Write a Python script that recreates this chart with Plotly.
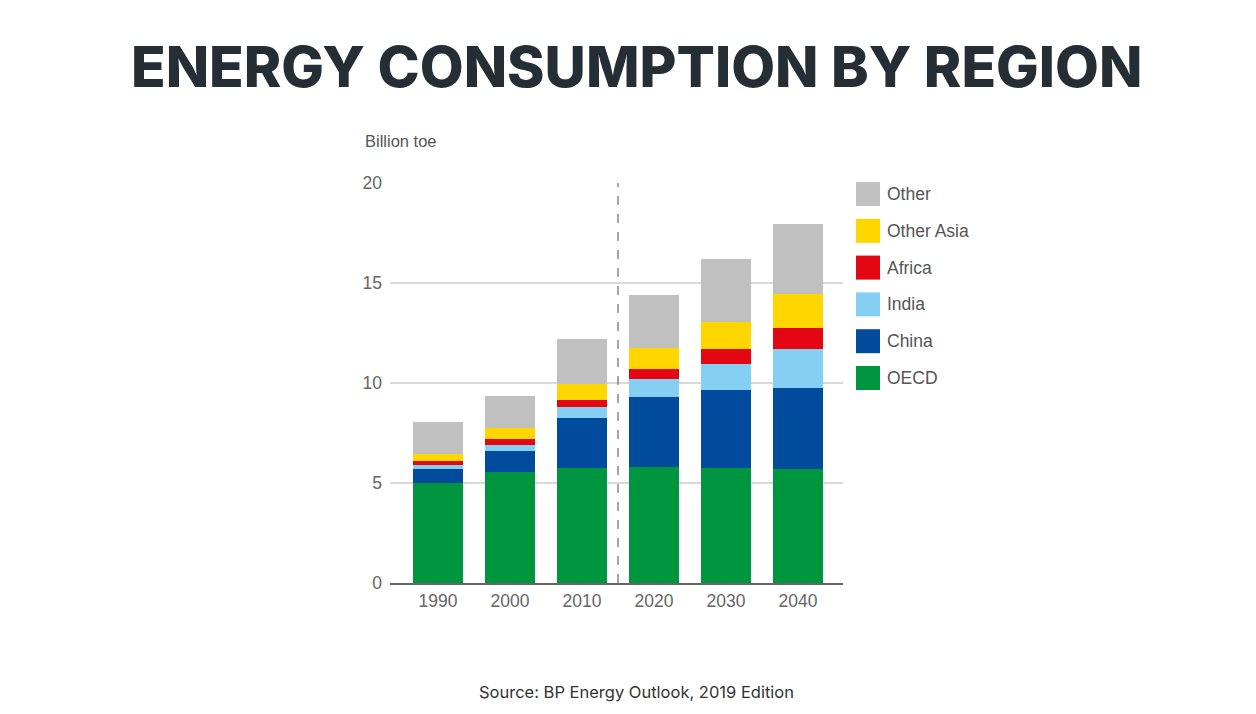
import plotly.graph_objects as go

years = ["1990", "2000", "2010", "2020", "2030", "2040"]
oecd = [5.0, 5.55, 5.73, 5.82, 5.77, 5.68]
china = [0.7, 1.07, 2.52, 3.5, 3.86, 4.09]
india = [0.2, 0.28, 0.55, 0.86, 1.32, 1.95]
africa = [0.22, 0.28, 0.37, 0.5, 0.75, 1.05]
other_asia = [0.33, 0.59, 0.8, 1.07, 1.37, 1.68]
other = [1.62, 1.56, 2.23, 2.65, 3.13, 3.5]

series = [
    ("OECD", oecd, "#009640"),
    ("China", china, "#004b9b"),
    ("India", india, "#85cff2"),
    ("Africa", africa, "#e30613"),
    ("Other Asia", other_asia, "#fed600"),
    ("Other", other, "#c0c0c0"),
]

W, H = 1256, 714
fig = go.Figure()
for name, vals, col in series:
    fig.add_trace(go.Bar(x=years, y=vals, name=name, marker=dict(color=col, line=dict(width=0)),
                         showlegend=False))

x0, x1 = 390, 843
y_top, y_bot = 183, 583
fig.update_layout(
    width=W, height=H,
    margin=dict(l=0, r=0, t=0, b=0, autoexpand=False),
    paper_bgcolor="white", plot_bgcolor="white",
    barmode="stack", bargap=0.305,
    xaxis=dict(domain=[x0 / W, x1 / W], range=[-0.667, 5.625], type="category",
               automargin=False,
               showgrid=False, showline=True, linecolor="#666666", linewidth=1.5,
               ticks="", ticklabelstandoff=1,
               tickfont=dict(family="Liberation Sans", size=17.5, color="#666666")),
    yaxis=dict(domain=[1 - y_bot / H, 1 - y_top / H], range=[0, 20], tickvals=[0, 5, 10, 15, 20],
               automargin=False,
               showgrid=True, gridcolor="#d9d9d9", gridwidth=1.5, zeroline=False,
               showline=False, ticks="", ticklabelstandoff=7,
               tickfont=dict(family="Liberation Sans", size=17.5, color="#666666")),
)

# dashed forecast divider between 2010 and 2020
fig.add_shape(type="line", xref="x", yref="y", x0=2.5, x1=2.5, y0=0, y1=20,
              line=dict(color="#888888", width=1.5, dash="dash"))

# manual legend (top to bottom: Other ... OECD)
for i, (name, vals, col) in enumerate(reversed(series)):
    yc = 194 + i * 36.8
    fig.add_shape(type="rect", xref="paper", yref="paper",
                  x0=856 / W, x1=880 / W, y0=1 - (yc + 12) / H, y1=1 - (yc - 12) / H,
                  fillcolor=col, line=dict(width=0))
    fig.add_annotation(x=885 / W, y=1 - yc / H, xref="paper", yref="paper", text=name,
                       showarrow=False, xanchor="left", yanchor="middle",
                       font=dict(family="Liberation Sans", size=17.5, color="#555555"))

fig.add_annotation(x=363 / W, y=1 - 141 / H, xref="paper", yref="paper", text="Billion toe",
                   showarrow=False, xanchor="left", yanchor="middle",
                   font=dict(family="Liberation Sans", size=16.5, color="#555555"))

fig.add_annotation(x=636 / W, y=1 - 66 / H, xref="paper", yref="paper",
                   text="ENERGY CONSUMPTION BY REGION", showarrow=False,
                   xanchor="center", yanchor="middle",
                   font=dict(family="Inter", size=56.8, color="#252d35", weight=800))

fig.add_annotation(x=636 / W, y=1 - 692 / H, xref="paper", yref="paper",
                   text="Source: BP Energy Outlook, 2019 Edition", showarrow=False,
                   xanchor="center", yanchor="middle",
                   font=dict(family="Inter", size=16.5, color="#333333"))

fig.write_html("out.html")
